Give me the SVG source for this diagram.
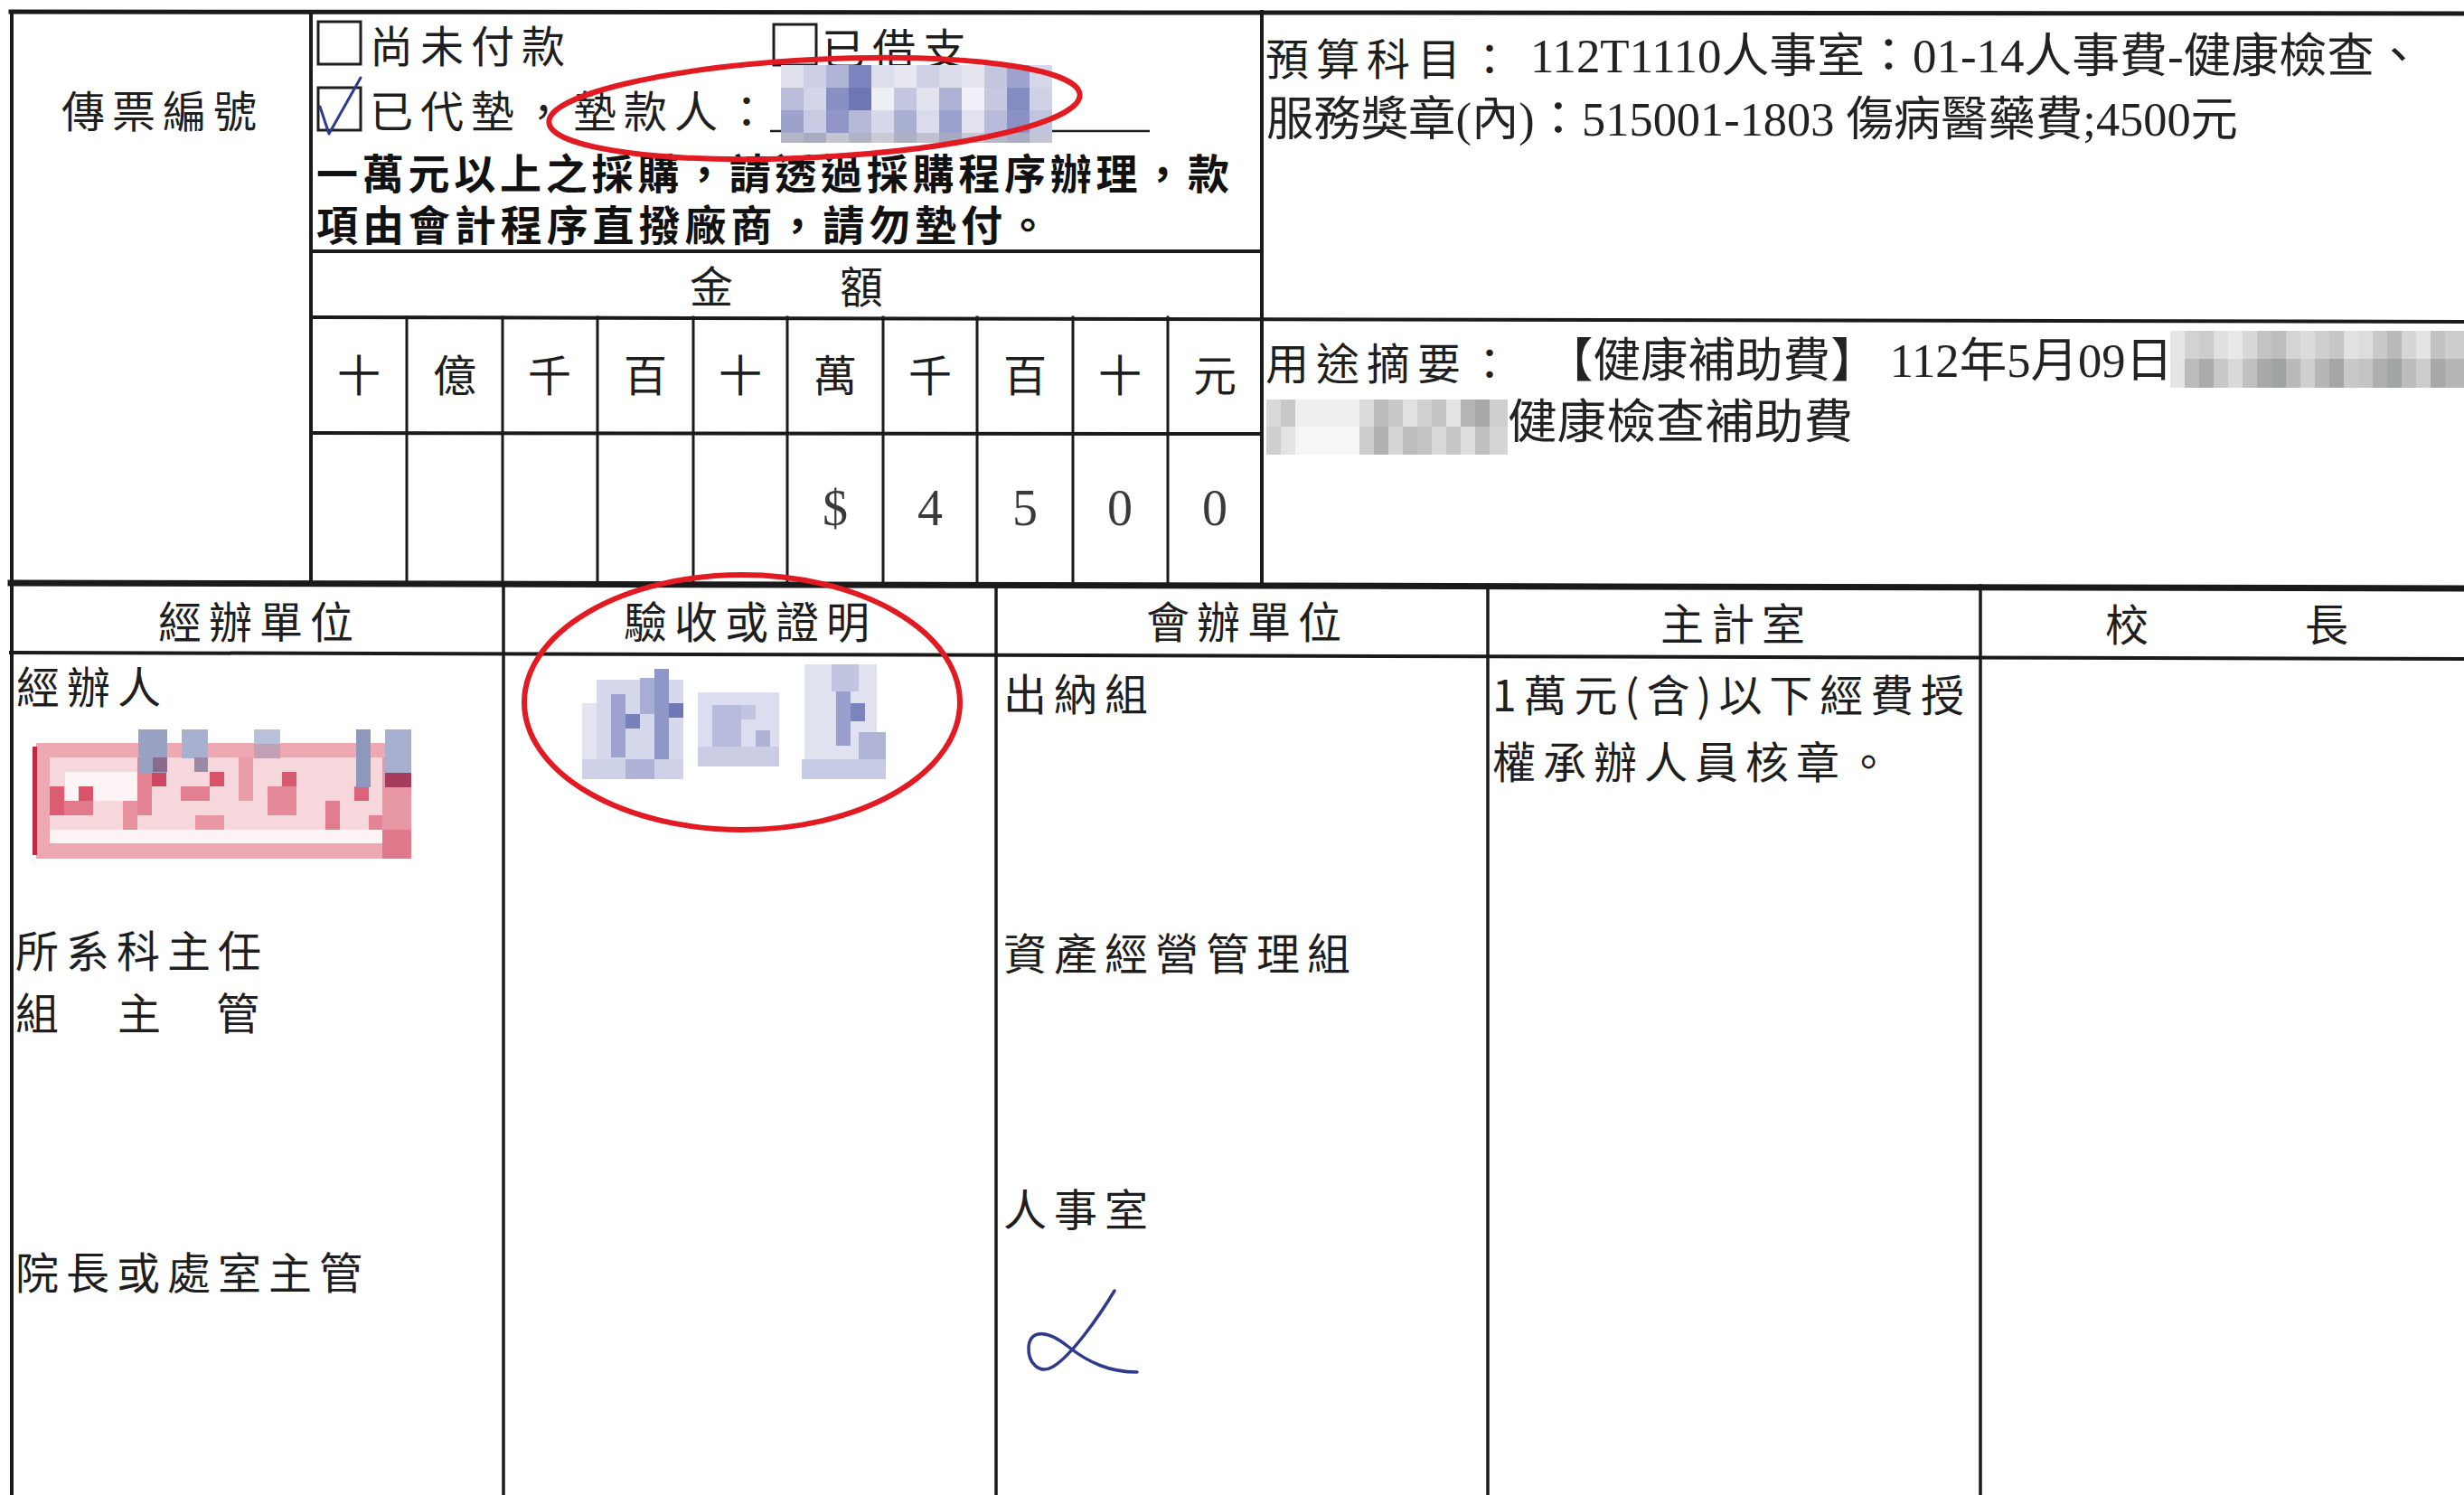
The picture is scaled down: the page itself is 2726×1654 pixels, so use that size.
<svg xmlns="http://www.w3.org/2000/svg" width="2726" height="1654" viewBox="0 0 2726 1654">
<style>
.ln{stroke:#1a1a1a;fill:none;stroke-linecap:square}
.lb{font-family:"Noto Sans CJK TC","Noto Sans CJK SC",sans-serif;font-size:48px;fill:#1e1e1e;letter-spacing:8px;dominant-baseline:central}
.hd{font-family:"Noto Sans CJK TC","Noto Sans CJK SC",sans-serif;font-size:48px;fill:#1e1e1e;dominant-baseline:central;text-anchor:middle}
.bd{font-family:"Noto Sans CJK TC","Noto Sans CJK SC",sans-serif;font-size:46px;font-weight:700;fill:#111;dominant-baseline:central}
.ty{font-family:"Liberation Serif","Noto Sans CJK TC",serif;font-size:52px;fill:#222;dominant-baseline:central}
.dg{font-family:"Liberation Serif",serif;font-size:56px;fill:#3a3a3a;dominant-baseline:central;text-anchor:middle}
.red{fill:none;stroke:#e21b23;stroke-width:6}
.ink{fill:none;stroke:#2f3a8c;stroke-linecap:round;stroke-linejoin:round}
</style>
<rect x="0" y="0" width="2726" height="1654" fill="#ffffff"/>

<g id="connectors">
  <line class="ln" x1="12" y1="13" x2="2726" y2="15" stroke-width="5"/>
  <line class="ln" x1="13" y1="13" x2="13" y2="1654" stroke-width="4"/>
  <line class="ln" x1="344" y1="13" x2="344" y2="645" stroke-width="4"/>
  <line class="ln" x1="1396" y1="13" x2="1396" y2="645" stroke-width="4"/>
  <line class="ln" x1="344" y1="278" x2="1396" y2="278" stroke-width="4"/>
  <line class="ln" x1="344" y1="351" x2="2726" y2="356" stroke-width="4"/>
  <line class="ln" x1="344" y1="479" x2="1396" y2="480" stroke-width="4"/>
  <g stroke-width="3">
    <line class="ln" x1="450" y1="351" x2="450" y2="645"/>
    <line class="ln" x1="556" y1="351" x2="556" y2="645"/>
    <line class="ln" x1="661" y1="351" x2="661" y2="645"/>
    <line class="ln" x1="767" y1="351" x2="767" y2="645"/>
    <line class="ln" x1="871" y1="351" x2="871" y2="645"/>
    <line class="ln" x1="977" y1="351" x2="977" y2="645"/>
    <line class="ln" x1="1081" y1="351" x2="1081" y2="645"/>
    <line class="ln" x1="1187" y1="351" x2="1187" y2="645"/>
    <line class="ln" x1="1292" y1="351" x2="1292" y2="645"/>
  </g>
  <line class="ln" x1="12" y1="645" x2="2726" y2="651" stroke-width="7"/>
  <line class="ln" x1="12" y1="722" x2="2726" y2="729" stroke-width="4"/>
  <g stroke-width="3.5">
    <line class="ln" x1="557" y1="645" x2="557" y2="1654"/>
    <line class="ln" x1="1102" y1="646" x2="1102" y2="1654"/>
    <line class="ln" x1="1646" y1="647" x2="1646" y2="1654"/>
    <line class="ln" x1="2191" y1="648" x2="2191" y2="1654"/>
  </g>
</g>

<g id="node-voucher-no">
  <text class="lb" x="68" y="120">傳票編號</text>
</g>

<g id="node-payment-status">
  <rect x="352" y="24" width="47" height="47" fill="none" stroke="#1e1e1e" stroke-width="3"/>
  <text class="lb" x="409" y="48">尚未付款</text>
  <rect x="856" y="27" width="47" height="45" fill="none" stroke="#1e1e1e" stroke-width="3"/>
  <text class="lb" x="909" y="51">已借支</text>
  <rect x="352" y="97" width="47" height="47" fill="none" stroke="#1e1e1e" stroke-width="3"/>
  <path class="ink" d="M354,118 L364,148 L399,86" stroke-width="3"/>
  <text class="lb" x="409" y="120">已代墊，</text>
  <text class="lb" x="634" y="120">墊款人：</text>
  <line x1="852" y1="145" x2="1272" y2="145" stroke="#1e1e1e" stroke-width="2.5"/>
  <g id="payer-mosaic">
    <rect x="864" y="72" width="25" height="25" fill="#dfe0ec"/><rect x="889" y="72" width="25" height="25" fill="#cdd0e4"/><rect x="914" y="72" width="25" height="25" fill="#b0b5d7"/><rect x="939" y="72" width="25" height="25" fill="#7c84bf"/><rect x="964" y="72" width="25" height="25" fill="#dcdeec"/><rect x="989" y="72" width="25" height="25" fill="#e6e7f1"/><rect x="1014" y="72" width="25" height="25" fill="#cfd2e5"/><rect x="1039" y="72" width="25" height="25" fill="#dadcea"/><rect x="1064" y="72" width="25" height="25" fill="#e4e5ef"/><rect x="1089" y="72" width="25" height="25" fill="#c2c6df"/><rect x="1114" y="72" width="25" height="25" fill="#9ea4cf"/><rect x="1139" y="72" width="25" height="25" fill="#d6d8e9"/>
    <rect x="864" y="97" width="25" height="25" fill="#b9bdd9"/><rect x="889" y="97" width="25" height="25" fill="#d3d5e8"/><rect x="914" y="97" width="25" height="25" fill="#8890c4"/><rect x="939" y="97" width="25" height="25" fill="#6e77b5"/><rect x="964" y="97" width="25" height="25" fill="#eeeef5"/><rect x="989" y="97" width="25" height="25" fill="#c4c7df"/><rect x="1014" y="97" width="25" height="25" fill="#e2e3ef"/><rect x="1039" y="97" width="25" height="25" fill="#aeb2d5"/><rect x="1064" y="97" width="25" height="25" fill="#f0f0f6"/><rect x="1089" y="97" width="25" height="25" fill="#c6c9e0"/><rect x="1114" y="97" width="25" height="25" fill="#858cc2"/><rect x="1139" y="97" width="25" height="25" fill="#cfd1e5"/>
    <rect x="864" y="122" width="25" height="25" fill="#9ca2ca"/><rect x="889" y="122" width="25" height="25" fill="#c8cbe1"/><rect x="914" y="122" width="25" height="25" fill="#9097c6"/><rect x="939" y="122" width="25" height="25" fill="#b6bad8"/><rect x="964" y="122" width="25" height="25" fill="#d7d9ea"/><rect x="989" y="122" width="25" height="25" fill="#a9aed3"/><rect x="1014" y="122" width="25" height="25" fill="#dadcec"/><rect x="1039" y="122" width="25" height="25" fill="#9ba1cd"/><rect x="1064" y="122" width="25" height="25" fill="#e1e2ee"/><rect x="1089" y="122" width="25" height="25" fill="#b8bcda"/><rect x="1114" y="122" width="25" height="25" fill="#8a91c4"/><rect x="1139" y="122" width="25" height="25" fill="#c0c4de"/>
    <rect x="864" y="147" width="25" height="11" fill="#b3b5c6"/><rect x="889" y="147" width="25" height="11" fill="#a9acc0"/><rect x="914" y="147" width="25" height="11" fill="#c3c5d2"/><rect x="939" y="147" width="25" height="11" fill="#b0b3c5"/><rect x="964" y="147" width="25" height="11" fill="#c9cbd6"/><rect x="989" y="147" width="25" height="11" fill="#aeb1c3"/><rect x="1014" y="147" width="25" height="11" fill="#bfc1cf"/><rect x="1039" y="147" width="25" height="11" fill="#a7aac0"/><rect x="1064" y="147" width="25" height="11" fill="#c6c8d5"/><rect x="1089" y="147" width="25" height="11" fill="#b5b8c9"/><rect x="1114" y="147" width="25" height="11" fill="#aaadc2"/><rect x="1139" y="147" width="25" height="11" fill="#c4c6d3"/>
  </g>
  <text class="bd" x="350" y="189" textLength="1010" lengthAdjust="spacing">一萬元以上之採購，請透過採購程序辦理，款</text>
  <text class="bd" x="350" y="246" textLength="810" lengthAdjust="spacing">項由會計程序直撥廠商，請勿墊付。</text>
</g>

<g id="node-amount">
  <text class="hd" x="787" y="314">金</text>
  <text class="hd" x="953" y="314">額</text>
  <text class="hd" x="397" y="412">十</text>
  <text class="hd" x="503" y="412">億</text>
  <text class="hd" x="608" y="412">千</text>
  <text class="hd" x="714" y="412">百</text>
  <text class="hd" x="819" y="412">十</text>
  <text class="hd" x="924" y="412">萬</text>
  <text class="hd" x="1029" y="412">千</text>
  <text class="hd" x="1134" y="412">百</text>
  <text class="hd" x="1239" y="412">十</text>
  <text class="hd" x="1344" y="412">元</text>
  <text class="dg" x="924" y="562">$</text>
  <text class="dg" x="1029" y="562">4</text>
  <text class="dg" x="1134" y="562">5</text>
  <text class="dg" x="1239" y="562">0</text>
  <text class="dg" x="1344" y="562">0</text>
</g>

<g id="node-budget">
  <text class="lb" x="1400" y="62">預算科目：</text>
  <text class="ty" x="1693" y="62" textLength="987" lengthAdjust="spacingAndGlyphs">112T1110人事室：01-14人事費-健康檢查、</text>
  <text class="ty" x="1401" y="132" textLength="1075" lengthAdjust="spacingAndGlyphs">服務獎章(內)：515001-1803 傷病醫藥費;4500元</text>
</g>

<g id="node-purpose">
  <text class="lb" x="1400" y="399">用途摘要：</text>
  <text class="ty" x="1710" y="399" textLength="694" lengthAdjust="spacingAndGlyphs">【健康補助費】 112年5月09日</text>
  <g id="purpose-mosaic-1">
    <rect x="2401" y="366" width="325" height="63" fill="#dcdcdc"/>
    <rect x="2401" y="366" width="16" height="31" fill="#e6e6e6"/><rect x="2417" y="366" width="16" height="31" fill="#d2d2d2"/><rect x="2433" y="366" width="16" height="31" fill="#cccccc"/><rect x="2449" y="366" width="16" height="31" fill="#e0e0e0"/><rect x="2465" y="366" width="16" height="31" fill="#e8e8e8"/><rect x="2481" y="366" width="16" height="31" fill="#d8d8d8"/><rect x="2497" y="366" width="16" height="31" fill="#c4c4c4"/><rect x="2513" y="366" width="16" height="31" fill="#bdbdbd"/><rect x="2529" y="366" width="16" height="31" fill="#d4d4d4"/><rect x="2545" y="366" width="16" height="31" fill="#dcdcdc"/><rect x="2561" y="366" width="16" height="31" fill="#cfcfcf"/><rect x="2577" y="366" width="16" height="31" fill="#c6c6c6"/><rect x="2593" y="366" width="16" height="31" fill="#e2e2e2"/><rect x="2609" y="366" width="16" height="31" fill="#dddddd"/><rect x="2625" y="366" width="16" height="31" fill="#c9c9c9"/><rect x="2641" y="366" width="16" height="31" fill="#bababa"/><rect x="2657" y="366" width="16" height="31" fill="#d6d6d6"/><rect x="2673" y="366" width="16" height="31" fill="#e4e4e4"/><rect x="2689" y="366" width="16" height="31" fill="#c2c2c2"/><rect x="2705" y="366" width="21" height="31" fill="#cdcdcd"/>
    <rect x="2401" y="397" width="16" height="32" fill="#e4e4e4"/><rect x="2417" y="397" width="16" height="32" fill="#bbbbbb"/><rect x="2433" y="397" width="16" height="32" fill="#ababab"/><rect x="2449" y="397" width="16" height="32" fill="#c8c8c8"/><rect x="2465" y="397" width="16" height="32" fill="#d9d9d9"/><rect x="2481" y="397" width="16" height="32" fill="#c0c0c0"/><rect x="2497" y="397" width="16" height="32" fill="#a9a9a9"/><rect x="2513" y="397" width="16" height="32" fill="#9fa3a3"/><rect x="2529" y="397" width="16" height="32" fill="#b9b9b9"/><rect x="2545" y="397" width="16" height="32" fill="#cfcfcf"/><rect x="2561" y="397" width="16" height="32" fill="#b6b6b6"/><rect x="2577" y="397" width="16" height="32" fill="#a6a6a6"/><rect x="2593" y="397" width="16" height="32" fill="#c9c9c9"/><rect x="2609" y="397" width="16" height="32" fill="#c4c4c4"/><rect x="2625" y="397" width="16" height="32" fill="#aeaeae"/><rect x="2641" y="397" width="16" height="32" fill="#a2a5a5"/><rect x="2657" y="397" width="16" height="32" fill="#bcbcbc"/><rect x="2673" y="397" width="16" height="32" fill="#cccccc"/><rect x="2689" y="397" width="16" height="32" fill="#a8a8a8"/><rect x="2705" y="397" width="21" height="32" fill="#b5b5b5"/>
  </g>
  <g id="purpose-mosaic-2">
    <rect x="1401" y="442" width="16" height="30" fill="#d9d9d9"/><rect x="1417" y="442" width="16" height="30" fill="#c8c8c8"/><rect x="1433" y="442" width="71" height="30" fill="#efefef"/><rect x="1504" y="442" width="16" height="30" fill="#dcdcdc"/><rect x="1520" y="442" width="16" height="30" fill="#bcbcbc"/><rect x="1536" y="442" width="16" height="30" fill="#c9c9c9"/><rect x="1552" y="442" width="16" height="30" fill="#e1e1e1"/><rect x="1568" y="442" width="16" height="30" fill="#d0d0d0"/><rect x="1584" y="442" width="16" height="30" fill="#c4c4c4"/><rect x="1600" y="442" width="16" height="30" fill="#e4e4e4"/><rect x="1616" y="442" width="16" height="30" fill="#b5b5b5"/><rect x="1632" y="442" width="16" height="30" fill="#a9a9a9"/><rect x="1648" y="442" width="20" height="30" fill="#cfcfcf"/>
    <rect x="1401" y="472" width="16" height="31" fill="#cfcfcf"/><rect x="1417" y="472" width="16" height="31" fill="#e3e3e3"/><rect x="1433" y="472" width="71" height="31" fill="#f6f6f6"/><rect x="1504" y="472" width="16" height="31" fill="#cdcdcd"/><rect x="1520" y="472" width="16" height="31" fill="#b1b1b1"/><rect x="1536" y="472" width="16" height="31" fill="#d6d6d6"/><rect x="1552" y="472" width="16" height="31" fill="#bdbdbd"/><rect x="1568" y="472" width="16" height="31" fill="#c3c3c3"/><rect x="1584" y="472" width="16" height="31" fill="#d9d9d9"/><rect x="1600" y="472" width="16" height="31" fill="#c7c7c7"/><rect x="1616" y="472" width="16" height="31" fill="#dedede"/><rect x="1632" y="472" width="16" height="31" fill="#c0c0c0"/><rect x="1648" y="472" width="20" height="31" fill="#d5d5d5"/>
  </g>
  <text class="ty" x="1668" y="467" textLength="382" lengthAdjust="spacingAndGlyphs">健康檢查補助費</text>
</g>

<g id="node-handling-unit">
  <text class="hd" x="287" y="685" letter-spacing="8">經辦單位</text>
  <text class="lb" x="18" y="757">經辦人</text>
  <g id="stamp-mosaic">
    <rect x="40" y="822" width="415" height="128" fill="#eda8b2"/>
    <rect x="36" y="826" width="5" height="120" fill="#c0283f"/>
    <rect x="55" y="838" width="368" height="80" fill="#f6d7dc"/>
    <rect x="55" y="918" width="368" height="15" fill="#fdf3f4"/>
    <rect x="72" y="854" width="80" height="32" fill="#fdf4f5"/>
    <rect x="55" y="870" width="16" height="32" fill="#dd5e73"/><rect x="71" y="886" width="32" height="16" fill="#e17a8b"/><rect x="87" y="870" width="16" height="16" fill="#d9536a"/>
    <rect x="136" y="886" width="16" height="32" fill="#e890a0"/><rect x="152" y="838" width="16" height="64" fill="#e58495"/><rect x="168" y="854" width="16" height="16" fill="#cf4862"/>
    <rect x="200" y="870" width="32" height="16" fill="#e47f91"/><rect x="232" y="854" width="16" height="16" fill="#d9536a"/><rect x="216" y="902" width="32" height="16" fill="#ea96a5"/>
    <rect x="264" y="838" width="16" height="48" fill="#ec9dab"/><rect x="296" y="870" width="32" height="32" fill="#e68a9b"/><rect x="312" y="854" width="16" height="16" fill="#d65a70"/>
    <rect x="360" y="886" width="16" height="32" fill="#e27d90"/><rect x="392" y="870" width="16" height="16" fill="#dd6478"/><rect x="408" y="902" width="32" height="16" fill="#e48597"/>
    <rect x="423" y="838" width="32" height="112" fill="#e897a5"/><rect x="423" y="918" width="32" height="32" fill="#e0798c"/>
    <rect x="153" y="807" width="32" height="48" fill="#9aa2c4"/><rect x="169" y="838" width="16" height="16" fill="#8a6b8d"/>
    <rect x="201" y="807" width="29" height="32" fill="#a8b0d0"/><rect x="215" y="838" width="15" height="16" fill="#9a8aa8"/>
    <rect x="281" y="807" width="29" height="16" fill="#b9c0da"/><rect x="281" y="823" width="29" height="16" fill="#c4a0b4"/>
    <rect x="394" y="807" width="16" height="64" fill="#8f97bd"/><rect x="426" y="807" width="29" height="48" fill="#a7afcf"/><rect x="426" y="855" width="29" height="16" fill="#a63b5e"/>
  </g>
  <text class="lb" x="17" y="1049">所系科主任</text>
  <text class="lb" x="17" y="1118">組</text>
  <text class="lb" x="130" y="1118">主</text>
  <text class="lb" x="239" y="1118">管</text>
  <text class="lb" x="17" y="1405">院長或處室主管</text>
</g>

<g id="node-acceptance">
  <text class="hd" x="830" y="685" letter-spacing="8">驗收或證明</text>
  <g id="signature-mosaic">
    <rect x="660" y="752" width="96" height="110" fill="#d6d8eb"/>
    <rect x="644" y="778" width="16" height="62" fill="#e3e4f0"/>
    <rect x="676" y="768" width="16" height="70" fill="#9da3cf"/>
    <rect x="692" y="790" width="16" height="16" fill="#7880bb"/>
    <rect x="708" y="750" width="16" height="40" fill="#a8add3"/>
    <rect x="724" y="740" width="16" height="100" fill="#8f96c8"/>
    <rect x="740" y="778" width="16" height="16" fill="#6f77b5"/>
    <rect x="644" y="840" width="112" height="22" fill="#cfd2e6"/>
    <rect x="692" y="840" width="32" height="22" fill="#aeb2d6"/>
    <rect x="772" y="766" width="90" height="82" fill="#dcdef0"/>
    <rect x="788" y="780" width="32" height="60" fill="#b7bbdb"/>
    <rect x="820" y="780" width="16" height="16" fill="#c2c5e0"/>
    <rect x="836" y="808" width="16" height="30" fill="#aeb2d6"/>
    <rect x="772" y="826" width="90" height="22" fill="#c9cce3"/>
    <rect x="890" y="735" width="80" height="127" fill="#e0e2f0"/>
    <rect x="920" y="735" width="30" height="30" fill="#c1c5e0"/>
    <rect x="925" y="765" width="16" height="60" fill="#9aa0cd"/>
    <rect x="941" y="778" width="16" height="20" fill="#7c84bd"/>
    <rect x="950" y="810" width="30" height="30" fill="#b0b5d7"/>
    <rect x="887" y="840" width="93" height="22" fill="#c7cbe3"/>
  </g>
</g>

<g id="node-co-signing">
  <text class="hd" x="1380" y="685" letter-spacing="8">會辦單位</text>
  <text class="lb" x="1110" y="765">出納組</text>
  <text class="lb" x="1110" y="1052">資產經營管理組</text>
  <text class="lb" x="1110" y="1335">人事室</text>
  <path class="ink" d="M1233,1428 C1215,1458 1185,1500 1165,1512 C1150,1521 1137,1508 1138,1490 C1140,1470 1160,1472 1182,1490 C1205,1508 1228,1518 1258,1518" stroke-width="3.5"/>
</g>

<g id="node-accounting">
  <text class="hd" x="1921" y="687" letter-spacing="8">主計室</text>
  <text class="lb" x="1651" y="766" textLength="530" lengthAdjust="spacing">1萬元(含)以下經費授</text>
  <text class="lb" x="1651" y="840">權承辦人員核章。</text>
</g>

<g id="node-principal">
  <text class="hd" x="2353" y="688">校</text>
  <text class="hd" x="2574" y="688">長</text>
</g>

<g id="highlights">
  <ellipse class="red" cx="901" cy="120" rx="294" ry="54" transform="rotate(-3 901 120)"/>
  <ellipse class="red" cx="821" cy="777" rx="241" ry="141"/>
</g>
</svg>
